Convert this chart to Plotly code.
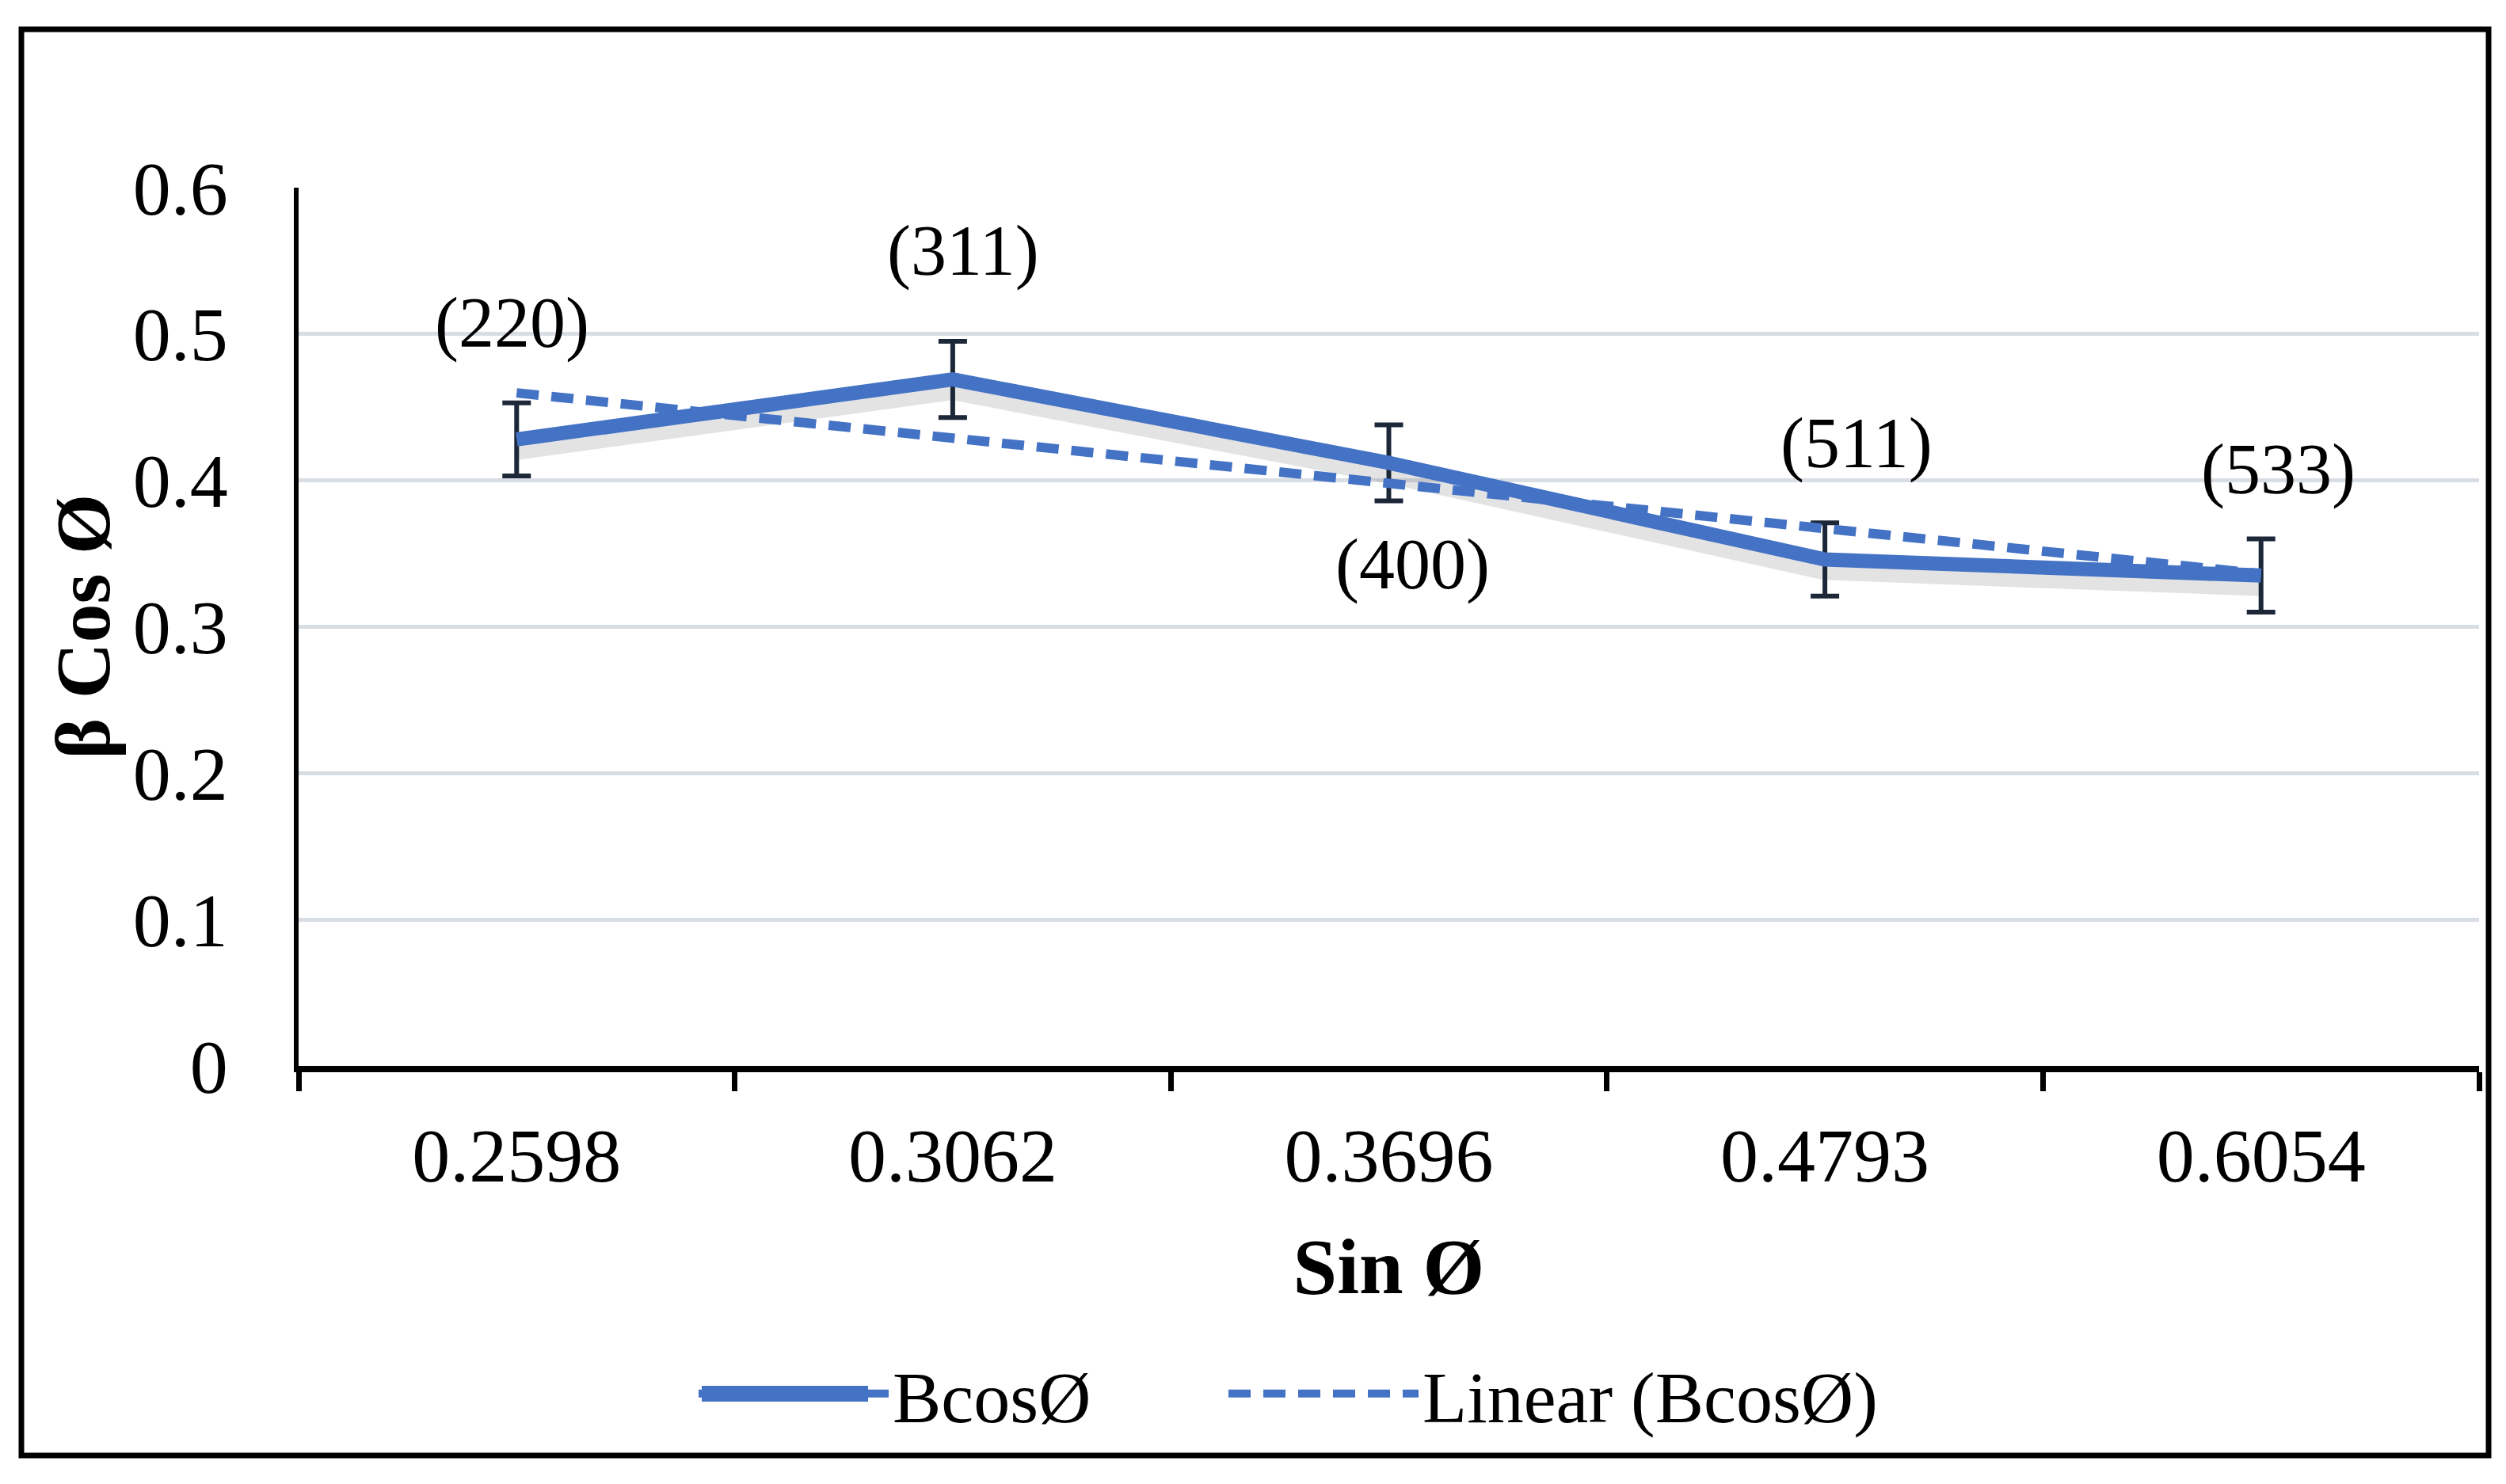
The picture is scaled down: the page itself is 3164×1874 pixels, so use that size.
import numpy as np
import plotly.graph_objects as go

# ---- data ----
sin_phi = ["0.2598", "0.3062", "0.3696", "0.4793", "0.6054"]
beta_cos = [0.428, 0.469, 0.412, 0.346, 0.335]
err = [0.025, 0.026, 0.026, 0.025, 0.025]
planes = ["(220)", "(311)", "(400)", "(511)", "(533)"]
y_ticks = [0, 0.1, 0.2, 0.3, 0.4, 0.5, 0.6]

# linear trend (least squares over category index, Excel-style)
idx = np.arange(1, len(beta_cos) + 1)
slope, icpt = np.polyfit(idx, beta_cos, 1)
trend = slope * idx + icpt
shadow = np.array(beta_cos) - 0.007

OFF = 8  # default page margin of the html body
W, H = 3164 - 2 * OFF, 1874 - 2 * OFF
L, R, T, B = 377 - OFF, 3130 - OFF, 237 - OFF, 1346 - OFF
FONT = "Liberation Serif"
BLUE = "#4472C4"


def px_x(p):
    return (p - OFF - L) / (R - L)


def px_y(p):
    return (B - (p - OFF)) / (B - T)


fig = go.Figure()

fig.add_trace(go.Scatter(
    x=sin_phi, y=shadow, mode="lines", showlegend=False, hoverinfo="skip",
    line=dict(color="rgba(90,90,90,0.17)", width=26),
))
fig.add_trace(go.Scatter(
    x=sin_phi, y=beta_cos, mode="lines", name="BcosØ", legend="legend",
    line=dict(color=BLUE, width=18),
    error_y=dict(type="data", array=err, visible=True,
                 color="#1C2738", thickness=6, width=18),
))
fig.add_trace(go.Scatter(
    x=sin_phi, y=trend, mode="lines", name="Linear (BcosØ)", legend="legend2",
    line=dict(color=BLUE, width=12, dash="28px,16px"),
))

# plane labels, offset from their points
offsets = [(-6, 147), (13, 162), (30, -129), (40, 146), (22, 134)]
for i, (lab, yv, (dx, dy)) in enumerate(zip(planes, beta_cos, offsets)):
    fig.add_annotation(x=i, y=yv, text=lab, showarrow=False,
                       xshift=dx, yshift=dy,
                       font=dict(family=FONT, size=90, color="black"))

# y-axis title
fig.add_annotation(xref="paper", yref="paper", x=px_x(104), y=0.5,
                   text="<b>β Cos Ø</b>", textangle=-90, showarrow=False,
                   xanchor="center", yanchor="middle",
                   font=dict(family=FONT, size=98, color="black"))

# outer border
fig.add_shape(type="rect", xref="paper", yref="paper",
              x0=px_x(27), x1=px_x(3142), y0=px_y(1838), y1=px_y(37),
              line=dict(color="black", width=7), fillcolor="rgba(0,0,0,0)")

# thicker legend key for the main series (drawn beneath the legend's key)
fig.add_shape(type="line", xref="paper", yref="paper",
              x0=px_x(886), x1=px_x(1096), y0=px_y(1760), y1=px_y(1760),
              line=dict(color=BLUE, width=20))

leg_common = dict(orientation="h", yanchor="middle", xanchor="left",
                  font=dict(family=FONT, size=92, color="black"),
                  itemwidth=240, bgcolor="rgba(0,0,0,0)")

fig.update_layout(
    width=W, height=H,
    margin=dict(l=L, r=W - R, t=T, b=H - B, pad=0),
    paper_bgcolor="white", plot_bgcolor="white",
    font=dict(family=FONT, color="black"),
    showlegend=True,
    legend=dict(x=px_x(877), y=px_y(1760), **leg_common),
    legend2=dict(x=px_x(1546), y=px_y(1760), **leg_common),
    xaxis=dict(
        type="category", range=[-0.5, 4.5],
        showline=True, linecolor="black", linewidth=8,
        ticks="outside", tickson="boundaries", ticklen=24, tickwidth=7,
        tickcolor="black", showgrid=False, zeroline=False,
        tickfont=dict(family=FONT, size=96, color="black"),
        ticklabelstandoff=23,
        title=dict(text="<b>Sin Ø</b>", standoff=54,
                   font=dict(family=FONT, size=100, color="black")),
    ),
    yaxis=dict(
        range=[0, 0.6], tickvals=y_ticks,
        ticktext=[f"{v:g}" for v in y_ticks],
        showline=True, linecolor="black", linewidth=6,
        showgrid=True, gridcolor="#D9DEE5", gridwidth=5,
        zeroline=False, ticks="",
        ticklabelstandoff=64,
        tickfont=dict(family=FONT, size=96, color="black"),
    ),
)

fig.write_html("out.html")
